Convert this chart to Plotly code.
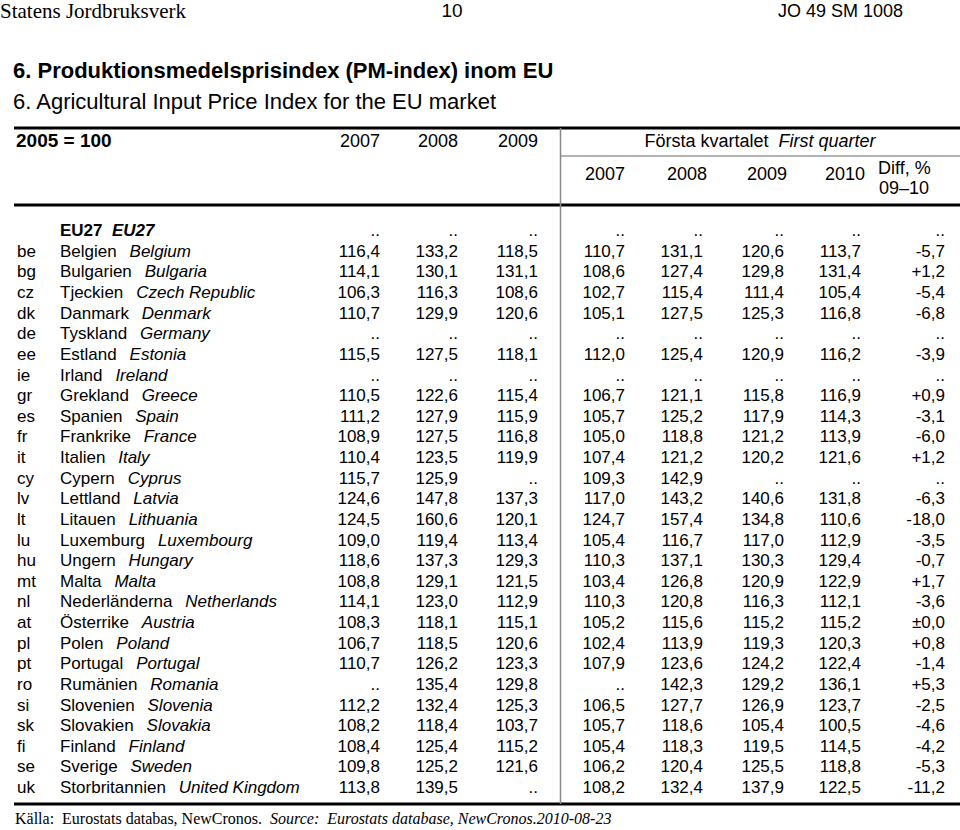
import plotly.graph_objects as go

# ---------------- data ----------------
codes = ["", "be", "bg", "cz", "dk", "de", "ee", "ie", "gr", "es", "fr", "it", "cy", "lv",
         "lt", "lu", "hu", "mt", "nl", "at", "pl", "pt", "ro", "si", "sk", "fi", "se", "uk"]
names_sv = ["EU27", "Belgien", "Bulgarien", "Tjeckien", "Danmark", "Tyskland", "Estland", "Irland",
            "Grekland", "Spanien", "Frankrike", "Italien", "Cypern", "Lettland", "Litauen",
            "Luxemburg", "Ungern", "Malta", "Nederländerna", "Österrike", "Polen", "Portugal",
            "Rumänien", "Slovenien", "Slovakien", "Finland", "Sverige", "Storbritannien"]
names_en = ["EU27", "Belgium", "Bulgaria", "Czech Republic", "Denmark", "Germany", "Estonia", "Ireland",
            "Greece", "Spain", "France", "Italy", "Cyprus", "Latvia", "Lithuania",
            "Luxembourg", "Hungary", "Malta", "Netherlands", "Austria", "Poland", "Portugal",
            "Romania", "Slovenia", "Slovakia", "Finland", "Sweden", "United Kingdom"]

year_2007 = [None, 116.4, 114.1, 106.3, 110.7, None, 115.5, None, 110.5, 111.2, 108.9, 110.4, 115.7, 124.6,
             124.5, 109.0, 118.6, 108.8, 114.1, 108.3, 106.7, 110.7, None, 112.2, 108.2, 108.4, 109.8, 113.8]
year_2008 = [None, 133.2, 130.1, 116.3, 129.9, None, 127.5, None, 122.6, 127.9, 127.5, 123.5, 125.9, 147.8,
             160.6, 119.4, 137.3, 129.1, 123.0, 118.1, 118.5, 126.2, 135.4, 132.4, 118.4, 125.4, 125.2, 139.5]
year_2009 = [None, 118.5, 131.1, 108.6, 120.6, None, 118.1, None, 115.4, 115.9, 116.8, 119.9, None, 137.3,
             120.1, 113.4, 129.3, 121.5, 112.9, 115.1, 120.6, 123.3, 129.8, 125.3, 103.7, 115.2, 121.6, None]
q1_2007 = [None, 110.7, 108.6, 102.7, 105.1, None, 112.0, None, 106.7, 105.7, 105.0, 107.4, 109.3, 117.0,
           124.7, 105.4, 110.3, 103.4, 110.3, 105.2, 102.4, 107.9, None, 106.5, 105.7, 105.4, 106.2, 108.2]
q1_2008 = [None, 131.1, 127.4, 115.4, 127.5, None, 125.4, None, 121.1, 125.2, 118.8, 121.2, 142.9, 143.2,
           157.4, 116.7, 137.1, 126.8, 120.8, 115.6, 113.9, 123.6, 142.3, 127.7, 118.6, 118.3, 120.4, 132.4]
q1_2009 = [None, 120.6, 129.8, 111.4, 125.3, None, 120.9, None, 115.8, 117.9, 121.2, 120.2, None, 140.6,
           134.8, 117.0, 130.3, 120.9, 116.3, 115.2, 119.3, 124.2, 129.2, 126.9, 105.4, 119.5, 125.5, 137.9]
q1_2010 = [None, 113.7, 131.4, 105.4, 116.8, None, 116.2, None, 116.9, 114.3, 113.9, 121.6, None, 131.8,
           110.6, 112.9, 129.4, 122.9, 112.1, 115.2, 120.3, 122.4, 136.1, 123.7, 100.5, 114.5, 118.8, 122.5]
diff_0910 = [None, -5.7, 1.2, -5.4, -6.8, None, -3.9, None, 0.9, -3.1, -6.0, 1.2, None, -6.3,
             -18.0, -3.5, -0.7, 1.7, -3.6, 0.0, 0.8, -1.4, 5.3, -2.5, -4.6, -4.2, -5.3, -11.2]

annual_years = ["2007", "2008", "2009"]
quarter_years = ["2007", "2008", "2009", "2010"]


def fmt(v):
    return ".." if v is None else f"{v:.1f}".replace(".", ",")


def fmt_diff(v):
    if v is None:
        return ".."
    s = f"{abs(v):.1f}".replace(".", ",")
    if v > 0:
        return "+" + s
    if v == 0:
        return "\u00b1" + s
    return "-" + s


# ---------------- layout constants ----------------
W, H = 960, 830
ROW0, PITCH = 232, 20.62
row_y = [ROW0 + i * PITCH for i in range(len(codes))]
num_right = [380, 458, 538, 625, 703, 784, 861, 945]
SANS = "Liberation Sans, Arial, sans-serif"
SERIF = "Liberation Serif, Times New Roman, serif"
BODY = 17

fig = go.Figure()


def add_text(xs, ys, texts, pos, size, family=SANS, color="black"):
    fig.add_trace(go.Scatter(
        x=xs, y=ys, text=texts, mode="text", textposition=pos,
        textfont=dict(family=family, size=size, color=color),
        hoverinfo="skip", showlegend=False, cliponaxis=False))


# page header
add_text([0], [13], ["Statens Jordbruksverk"], "middle right", 21, SERIF)
add_text([452], [12], ["10"], "middle center", 19)
add_text([778], [12], ["JO 49 SM 1008"], "middle right", 18)

# titles
add_text([13], [72], ["<b>6. Produktionsmedelsprisindex (PM-index) inom EU</b>"], "middle right", 22)
add_text([13], [103], ["6. Agricultural Input Price Index for the EU market"], "middle right", 22)

# table header
add_text([16], [142], ["<b>2005 = 100</b>"], "middle right", 19)
add_text([380, 458, 538], [142] * 3, annual_years, "middle left", 18)
add_text([760], [142], ["Första kvartalet  <i>First quarter</i>"], "middle center", 18)
add_text([625, 707, 787, 865], [175] * 4, quarter_years, "middle left", 18)
add_text([878], [169], ["Diff, %"], "middle right", 18)
add_text([879], [189], ["09\u201310"], "middle right", 18)

# row labels
labels = []
for i, (sv, en) in enumerate(zip(names_sv, names_en)):
    if i == 0:
        labels.append(f"<b>{sv}\u00a0\u00a0<i>{en}</i></b>")
    else:
        labels.append(f"{sv}\u00a0\u00a0\u2009<i>{en}</i>")
add_text([17] * len(codes), row_y, codes, "middle right", BODY)
add_text([60] * len(codes), row_y, labels, "middle right", BODY)

# numeric columns
columns = [year_2007, year_2008, year_2009, q1_2007, q1_2008, q1_2009, q1_2010]
for xr, col in zip(num_right, columns):
    add_text([xr] * len(col), row_y, [fmt(v) for v in col], "middle left", BODY)
add_text([num_right[-1]] * len(diff_0910), row_y, [fmt_diff(v) for v in diff_0910], "middle left", BODY)

# source
add_text([15], [820],
         ["Källa:\u00a0 Eurostats databas, NewCronos.\u00a0 <i>Source:\u00a0 Eurostats database, NewCronos.2010-08-23</i>"],
         "middle right", 16, SERIF)

# rules
shapes = [
    dict(type="line", x0=14, x1=960, y0=128, y1=128, line=dict(color="black", width=3)),
    dict(type="line", x0=14, x1=960, y0=205, y1=205, line=dict(color="black", width=3)),
    dict(type="line", x0=14, x1=960, y0=804, y1=804, line=dict(color="black", width=3)),
    dict(type="line", x0=560, x1=960, y0=156, y1=156, line=dict(color="#999999", width=1.5)),
    dict(type="line", x0=560.5, x1=560.5, y0=128, y1=804, line=dict(color="#888888", width=1.5)),
]
for s in shapes:
    s.update(xref="x", yref="y", layer="below")

fig.update_layout(
    width=W, height=H, margin=dict(l=0, r=0, t=0, b=0),
    paper_bgcolor="white", plot_bgcolor="white", showlegend=False,
    xaxis=dict(range=[0, W], visible=False, fixedrange=True),
    yaxis=dict(range=[H, 0], visible=False, fixedrange=True),
    shapes=shapes,
)

fig.write_html("out.html", config={"displayModeBar": False, "staticPlot": True},
               post_script="document.body.style.margin='0px';document.body.style.overflow='hidden';")
